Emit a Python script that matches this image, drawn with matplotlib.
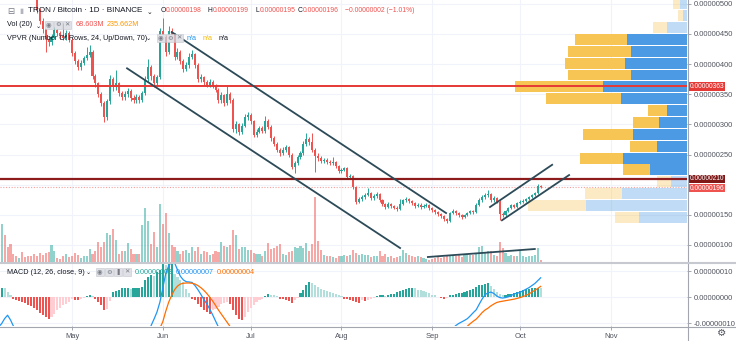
import numpy as np
import pandas as pd
import matplotlib
matplotlib.use("Agg")
import matplotlib.pyplot as plt
import matplotlib.dates as mdates
from matplotlib import font_manager
from matplotlib.lines import Line2D
from matplotlib.ticker import FuncFormatter
from matplotlib.transforms import ScaledTranslation, blended_transform_factory

installed = {f.name for f in font_manager.fontManager.ttflist}
if "Liberation Sans Narrow" in installed:
    FONT, K = "Liberation Sans Narrow", 1.0
else:
    FONT, K = "Liberation Sans", 0.82
plt.rcParams["font.family"] = [FONT, "DejaVu Sans"]

# TRX/BTC daily candles, prices in satoshi
dates = pd.date_range("2019-04-06", "2019-10-08", freq="D")
first_open = 575
closes = [
    590, 600, 592, 585, 575, 565, 556, 562, 552, 543,
    533, 524, 514, 490, 472, 458, 442, 436, 445, 456,
    451, 447, 444, 452, 440, 418, 405, 395, 402, 410,
    415, 420, 380, 368, 350, 336, 312, 338, 376, 362,
    368, 352, 345, 350, 356, 344, 340, 345, 340, 352,
    375, 396, 380, 368, 378, 455, 445, 420, 455, 448,
    412, 420, 405, 392, 398, 412, 416, 398, 375, 378,
    370, 366, 370, 364, 357, 340, 348, 335, 350, 340,
    292, 300, 287, 298, 312, 316, 305, 283, 288, 294,
    289, 306, 296, 277, 268, 258, 252, 258, 262, 250,
    230, 236, 246, 252, 268, 276, 270, 258, 248, 244,
    239, 241, 238, 236, 238, 231, 222, 225, 227, 212,
    214, 196, 172, 176, 180, 183, 186, 178, 181, 185,
    175, 168, 163, 168, 165, 162, 160, 168, 174, 176,
    173, 170, 165, 167, 163, 165, 167, 161, 158, 155,
    151, 148, 143, 140, 153, 156, 153, 150, 146, 150,
    153, 156, 155, 166, 175, 180, 183, 185, 175, 178,
    172, 152, 149, 156, 161, 166, 163, 170, 171, 173,
    176, 180, 183, 186, 198, 196,
]
highs = [
    596, 608, 604, 596, 588, 579, 568, 568, 565, 556,
    547, 536, 527, 516, 493, 476, 461, 447, 450, 462,
    460, 455, 468, 456, 455, 443, 421, 408, 406, 414,
    428, 432, 423, 384, 371, 354, 339, 342, 382, 379,
    390, 371, 356, 355, 361, 359, 348, 350, 349, 356,
    380, 408, 399, 384, 382, 460, 476, 448, 463, 460,
    451, 426, 423, 408, 403, 418, 424, 419, 401, 383,
    381, 374, 375, 373, 367, 360, 353, 351, 364, 353,
    343, 305, 303, 302, 318, 320, 319, 308, 292, 298,
    297, 314, 309, 299, 280, 271, 261, 262, 266, 264,
    252, 240, 250, 256, 272, 285, 279, 286, 261, 252,
    247, 245, 244, 241, 246, 240, 233, 228, 230, 229,
    217, 216, 198, 179, 183, 186, 194, 188, 184, 188,
    187, 177, 170, 171, 170, 167, 164, 176, 177, 179,
    178, 175, 172, 170, 169, 168, 170, 168, 163, 160,
    157, 153, 150, 145, 155, 159, 158, 155, 152, 152,
    155, 158, 158, 169, 178, 183, 186, 191, 187, 181,
    180, 174, 155, 158, 163, 168, 168, 172, 174, 176,
    178, 182, 185, 188, 201, 199,
]
lows = [
    570, 586, 588, 580, 570, 560, 551, 552, 547, 538,
    528, 519, 508, 485, 466, 452, 420, 430, 432, 441,
    446, 442, 440, 440, 436, 414, 400, 390, 391, 398,
    406, 411, 376, 362, 345, 330, 304, 308, 334, 356,
    357, 347, 340, 341, 346, 339, 335, 336, 336, 337,
    349, 371, 374, 362, 364, 375, 440, 414, 416, 440,
    406, 408, 400, 387, 388, 394, 408, 393, 370, 371,
    366, 362, 362, 360, 353, 336, 336, 331, 332, 336,
    288, 286, 282, 284, 295, 308, 300, 279, 279, 285,
    285, 286, 292, 273, 264, 254, 248, 249, 255, 246,
    226, 220, 233, 243, 249, 265, 266, 254, 221, 240,
    236, 236, 235, 233, 233, 228, 219, 219, 222, 209,
    209, 193, 168, 169, 173, 177, 181, 175, 175, 178,
    172, 165, 160, 161, 162, 159, 157, 158, 166, 171,
    170, 167, 162, 163, 160, 161, 163, 158, 155, 152,
    148, 145, 140, 136, 138, 151, 150, 147, 143, 144,
    148, 151, 152, 153, 164, 172, 177, 180, 172, 172,
    169, 141, 146, 147, 154, 159, 161, 161, 168, 169,
    171, 174, 178, 181, 184, 195,
]
# daily volume, millions of TRX
volumes = [
    448, 1064, 756, 420, 504, 224, 168, 112, 280, 140,
    168, 168, 224, 168, 252, 196, 252, 280, 476, 308,
    112, 84, 168, 224, 140, 168, 252, 196, 112, 168,
    168, 364, 224, 308, 560, 420, 560, 812, 756, 924,
    616, 224, 308, 308, 532, 364, 224, 224, 224, 1036,
    1512, 1148, 504, 840, 420, 1624, 1064, 1372, 812, 476,
    420, 308, 224, 308, 336, 252, 420, 308, 420, 224,
    308, 280, 196, 224, 308, 280, 560, 448, 420, 476,
    896, 756, 364, 420, 420, 336, 336, 252, 224, 224,
    168, 308, 532, 364, 392, 448, 504, 224, 196, 280,
    308, 420, 392, 448, 392, 532, 308, 504, 1820, 588,
    336, 196, 168, 168, 140, 112, 168, 168, 196, 168,
    196, 336, 252, 196, 224, 196, 196, 140, 168, 168,
    308, 168, 224, 140, 168, 112, 140, 168, 336, 252,
    196, 168, 140, 168, 140, 112, 84, 56, 84, 112,
    140, 112, 140, 196, 168, 168, 168, 196, 140, 196,
    224, 196, 196, 252, 420, 448, 252, 308, 308, 196,
    168, 560, 392, 252, 168, 196, 168, 168, 308, 168,
    140, 168, 168, 196, 392, 68.603,
]
vol_ma20 = 235.662

# MACD (12, 26, 9), values in 1e-8 BTC
macd_hist = [
    2.6, 3.5, 3.3, 1.9, 0.8, -0.6, -1.3, -1.7, -1.9, -2.2,
    -2.9, -3.5, -4.2, -5.1, -6.2, -6.8, -7.7, -8.3, -7.7, -6.4,
    -5.1, -4.2, -3.2, -2.6, -1.9, -0.9, -1.0, -1.3, -0.9, -0.3,
    0.3, 0.8, 0.5, -0.8, -1.8, -3.2, -5.1, -4.5, -1.5, 1.9,
    2.2, 2.6, 3.3, 3.5, 3.5, 3.2, 3.3, 3.5, 3.5, 3.8,
    6.4, 7.7, 8.3, 8.0, 9.6, 10.5, 12.8, 12.2, 12.8, 12.8,
    9.0, 7.7, 6.4, 5.8, 3.2, 1.5, -0.6, -1.3, -2.6, -3.8,
    -5.1, -5.8, -6.4, -5.1, -4.5, -3.8, -2.6, -2.2, -2.0, -2.6,
    -5.1, -7.0, -8.3, -9.0, -7.7, -5.8, -4.2, -3.2, -1.9, -1.0,
    -0.6, 0.5, 1.2, 0.9, 0.6, 0.3, -0.6, -0.9, -1.3, -1.5,
    -2.2, -1.3, -0.3, 1.5, 2.6, 4.5, 5.8, 5.4, 4.5, 3.8,
    3.2, 2.6, 2.2, 1.9, 1.5, 1.3, 0.9, 0.3, -0.6, -0.9,
    -1.3, -1.7, -1.9, -2.2, -1.3, -1.7, -1.3, -0.6, -0.4, 0.3,
    0.6, 0.6, 0.3, 0.9, 1.0, 1.3, 1.9, 2.2, 2.6, 3.2,
    3.5, 3.6, 3.3, 2.8, 2.6, 2.2, 1.9, 1.5, 0.9, 0.6,
    0.2, -0.3, -0.6, -0.3, 0.6, 0.9, 1.3, 1.5, 1.7, 1.9,
    2.2, 2.6, 3.2, 3.8, 4.5, 4.8, 5.1, 5.4, 4.2, 3.2,
    1.9, 1.3, 0.6, 0.9, 1.2, 1.3, 1.5, 1.9, 2.2, 2.6,
    2.9, 3.2, 3.5, 3.5, 3.6, 3.3,
]
macd_parts = [
    ("2019-04-06", [-11.5, -10.2, -8.3, -7.0, -8.8, -11.2, -13.5]),
    ("2019-05-27", [-14, -11, -8.5, -5.8, -2.0, 3.5, 9.0, 12.0, 13.5, 13.2,
                    10.5, 8.0, 6.6, 5.9, 5.8, 5.6, 4.4, 2.8, 1.0, -0.9,
                    -2.6, -4.6, -6.8, -9.2, -11.6, -14]),
    ("2019-09-08", [-12, -11, -10.2, -9.6, -9.0, -8.3, -7.2, -6.0, -4.9, -2.8,
                    -0.8, 0.9, 1.6, 1.9, 1.4, 0.4, -0.2, -0.4, -0.2, 0.1,
                    0.6, 1.2, 1.5, 1.8, 2.4, 3.0, 3.6, 4.4, 5.2, 6.3, 7.4]),
]
signal_parts = [
    ("2019-05-30", [-13.5, -12, -9.5, -5.5, -2.0, 0.6, 2.8, 4.2, 5.0, 5.3,
                    5.4, 5.4, 5.3, 5.0, 4.4, 3.6, 2.6, 1.4, 0.0, -1.5,
                    -3.2, -5.0, -6.6, -8.2, -9.8, -11.4, -13]),
    ("2019-09-12", [-13, -11.2, -10.2, -9.3, -8.5, -7.3, -6.0, -5.0, -4.3, -3.4,
                    -2.7, -2.1, -1.8, -1.6, -1.4, -1.2, -1.0, -0.8, -0.5, -0.2,
                    0.2, 0.6, 1.2, 1.9, 2.6, 3.3, 4.1]),
]

# volume profile, 24 rows from the lowest low to the highest high
vp_up = [48, 101, 65, 16, 37, 64, 30, 54, 28, 20, 66, 84,
         56, 62, 56, 60, 20, 4, 7, 19, 9, 8, 6, 5]
vp_down = [24, 58, 37, 14, 27, 43, 27, 50, 26, 19, 75, 88,
           63, 60, 63, 52, 14, 5, 7, 10, 6, 5, 4, 3]
value_area_pct = 70

# drawn levels and trend lines
resistance = 363
support = 210
price_lines = [
    (("2019-06-04 02:00", 453), ("2019-09-05 17:00", 153)),
    (("2019-05-19 19:00", 393), ("2019-08-21 00:00", 95)),
    (("2019-09-20 17:00", 163), ("2019-10-11 22:00", 233)),
    (("2019-09-24 19:00", 141), ("2019-10-17 17:00", 216)),
]
volume_line = (("2019-08-30 12:00", 140), ("2019-10-06 00:00", 364))

UP, DN = "#26a69a", "#ef5350"
GRID = "#f0f3fa"
TXT = "#131722"
AX_TXT = "#50535e"

W, H = 736, 341
fig = plt.figure(figsize=(W / 100, H / 100), dpi=100)


def rect(top, bottom):
    return [0, 1 - bottom / H, 687 / W, (bottom - top) / H]


ax_v = fig.add_axes(rect(0, 262))
ax = fig.add_axes(rect(0, 262), sharex=ax_v)
ax_m = fig.add_axes(rect(263, 326), sharex=ax_v)
ax.patch.set_visible(False)
for a in (ax_v, ax, ax_m):
    for s in a.spines.values():
        s.set_visible(False)

x = mdates.date2num(dates)
view = (mdates.date2num(pd.Timestamp("2019-04-06 10:00")),
        mdates.date2num(pd.Timestamp("2019-11-26 23:00")))
ax_v.set_xlim(*view)
ax.set_ylim(71.8, 506.3)
ax_v.set_ylim(0, 7336)
ax_m.set_ylim(-11.15, 13.1)

o = np.array([first_open] + closes[:-1], dtype=float)
c = np.array(closes, dtype=float)
rising = c >= o
colors = np.where(rising, UP, DN)

# grid (price levels live in the background axes)
ax_v.xaxis.set_major_locator(mdates.MonthLocator())
ax_v.grid(axis="x", color=GRID, lw=0.8)
ax_v.set_axisbelow(True)
gy = blended_transform_factory(ax_v.transAxes, ax.transData)
for p in range(100, 501, 50):
    ax_v.plot([0, 1], [p, p], color=GRID, lw=0.8, transform=gy, zorder=0)
ax_m.grid(color=GRID, lw=0.8)
ax_m.set_axisbelow(True)

# volume
vol_cols = [matplotlib.colors.to_rgba(col, 0.5) for col in colors]
ax_v.bar(x, volumes, width=0.72, color=vol_cols, lw=0, zorder=1)
(vx0, vv0), (vx1, vv1) = volume_line
ax_v.plot(mdates.date2num(pd.to_datetime([vx0, vx1])), [vv0, vv1],
          color="#2c4a57", lw=1.3, zorder=3)

# volume profile on the right edge
edges = np.linspace(min(lows), max(highs), 25)
step = edges[1] - edges[0]
up_v, dn_v = np.array(vp_up, float), np.array(vp_down, float)
tot = up_v + dn_v
poc = int(np.argmax(tot))
lo = hi = poc
acc = tot[poc]
while acc < tot.sum() * value_area_pct / 100:
    above = tot[hi + 1] if hi + 1 < len(tot) else -1
    below = tot[lo - 1] if lo > 0 else -1
    if above >= below:
        hi += 1
        acc += above
    else:
        lo -= 1
        acc += below
span = view[1] - view[0]
k = 0.25 * span / tot.max()
gap = 0.8
for i in range(24):
    a = 1.0 if lo <= i <= hi else 0.35
    ax.barh(edges[i] + gap, up_v[i] * k, left=view[1] - up_v[i] * k,
            height=step - 2 * gap, align="edge", color="#4c9ae4", alpha=a, lw=0, zorder=1)
    ax.barh(edges[i] + gap, dn_v[i] * k, left=view[1] - tot[i] * k,
            height=step - 2 * gap, align="edge", color="#f6c553", alpha=a, lw=0, zorder=1)

# candles
ax.vlines(x, lows, highs, colors=colors, lw=0.7, zorder=3)
ax.bar(x, np.maximum(np.abs(c - o), 0.8), bottom=np.minimum(o, c), width=0.7,
       color=colors, lw=0, zorder=3)

# horizontal levels and last price
ax.axhline(resistance, color="#e53935", lw=1.4, zorder=4)
ax.axhline(support, color="#8e1b1b", lw=1.6, zorder=4)
ax.axhline(closes[-1], color=DN, lw=0.8, ls=(0, (1, 1.5)), alpha=0.55, zorder=2)
for (d0, p0), (d1, p1) in price_lines:
    ax.plot(mdates.date2num(pd.to_datetime([d0, d1])), [p0, p1],
            color="#2c4a57", lw=1.3, zorder=5)

# MACD pane
hist = np.array(macd_hist)
prev = np.concatenate([[hist[0]], hist[:-1]])
hcol = np.where(hist >= 0, np.where(hist >= prev, "#26a69a", "#b2dfdb"),
                np.where(hist <= prev, "#ef5350", "#ffcdd2"))
ax_m.bar(x, hist, width=0.72, color=hcol, lw=0, zorder=2)
for start, vals in macd_parts:
    ax_m.plot(mdates.date2num(pd.date_range(start, periods=len(vals))), vals,
              color="#2196f3", lw=0.9, zorder=3)
for start, vals in signal_parts:
    ax_m.plot(mdates.date2num(pd.date_range(start, periods=len(vals))), vals,
              color="#ff6d00", lw=0.9, zorder=3)

# axes, ticks (the 200 label is covered by the price tags, so it is left out)
sat = FuncFormatter(lambda v, _: f"{v * 1e-8:.8f}")
ax.set_yticks([100, 150, 250, 300, 350, 400, 450, 500])
ax.yaxis.set_major_formatter(sat)
ax.yaxis.tick_right()
ax.tick_params(axis="y", length=3, width=0.6, pad=2, color="#9598a1",
               labelsize=6.6 * K, labelcolor=AX_TXT)
ax.tick_params(axis="x", length=0, labelbottom=False)
ax_v.tick_params(left=False, labelleft=False, bottom=False, labelbottom=False)
ax_m.set_yticks([-10, 0, 10])
ax_m.yaxis.set_major_formatter(sat)
ax_m.yaxis.tick_right()
ax_m.tick_params(axis="y", length=3, width=0.6, pad=2, color="#9598a1",
                 labelsize=6.6 * K, labelcolor=AX_TXT)
ax_m.xaxis.set_major_formatter(mdates.DateFormatter("%b"))
ax_m.tick_params(axis="x", length=3, width=0.6, pad=2, color="#9598a1",
                 labelsize=6.6 * K, labelcolor=AX_TXT)

# price tags on the scale; the last-price tag sits just under the support tag
tags = [(resistance, "#e53935", 0), (support, "#801818", 0), (closes[-1], "#ef5350", -1.2)]
for val, fc, dy in tags:
    tr = ax.get_yaxis_transform() + ScaledTranslation(0, dy / 100, fig.dpi_scale_trans)
    ax.text(1.0045, val, f"{val * 1e-8:.8f}", transform=tr,
            ha="left", va="center", fontsize=5.8 * K, color="white", clip_on=False,
            zorder=6, bbox=dict(boxstyle="square,pad=0.1", fc=fc, ec="none"))

# pane borders
for xs, ys, col, lw in [([687.5, 687.5], [0, H], "#a3a6af", 0.8),
                        ([0, W], [262.5, 262.5], "#c6c9d0", 1.5),
                        ([0, W], [326.5, 326.5], "#a3a6af", 0.8)]:
    fig.add_artist(Line2D([v / W for v in xs], [1 - v / H for v in ys],
                          color=col, lw=lw, transform=fig.transFigure))


def put(px, py, s, color=TXT, size=6.4):
    fig.text(px / W, 1 - py / H, s, color=color, fontsize=size * K,
             ha="left", va="center")


def icons(px, py, glyphs):
    for j, g in enumerate(glyphs):
        fig.text((px + 9 * j) / W, 1 - py / H, g, fontsize=4.6, color="#787b86",
                 ha="left", va="center", family="DejaVu Sans",
                 bbox=dict(boxstyle="square,pad=0.18", fc="#dfe1e6", ec="#c4c7ce", lw=0.4))


fmt8 = lambda v: f"{v * 1e-8:.8f}"
chg = closes[-1] - o[-1]
put(7, 11, "⊟", "#787b86", 7.5)
put(19, 11, "▮", "#b2b5be", 6.5)
put(28, 11, "TRON / Bitcoin · 1D · BINANCE", TXT, 7.1)
put(147, 12, "⌄", TXT, 6)
ohlc = [("O", o[-1], 161), ("H", highs[-1], 208), ("L", lows[-1], 255), ("C", closes[-1], 298)]
for letter, val, px in ohlc:
    put(px, 11, letter, TXT, 5.9)
    put(px + 5, 11, fmt8(val), DN, 5.9)
put(345, 11, f"{fmt8(chg)} ({chg / o[-1] * 100:.2f}%)".replace("-", "−"), DN, 5.9)

put(7, 25, "Vol (20)", TXT, 6.4)
put(36, 26, "⌄", TXT, 5.5)
icons(46, 25, ["◉", "⚙", "✕"])
put(76, 25, f"{volumes[-1]:.3f}M", DN, 6.4)
put(107, 25, f"{vol_ma20:.3f}M", "#ff9800", 6.4)

put(7, 38, "VPVR (Number Of Rows, 24, Up/Down, 70)", TXT, 6.4)
put(146, 39, "⌄", TXT, 5.5)
icons(158, 38, ["◉", "⚙", "✕"])
put(187, 38, "n/a", "#2196f3", 6.4)
put(203, 38, "n/a", "#f5b800", 6.4)
put(219, 38, "n/a", TXT, 6.4)

put(7, 272, "MACD (12, 26, close, 9)", TXT, 6.4)
put(86, 273, "⌄", TXT, 5.5)
icons(97, 272, ["◉", "⚙", "❚", "✕"])
put(135, 272, fmt8(macd_hist[-1]), "#26a69a", 6.4)
put(176, 272, fmt8(macd_parts[-1][1][-1]), "#2196f3", 6.4)
put(217, 272, fmt8(signal_parts[-1][1][-1]), "#ff6d00", 6.4)

fig.text(722 / W, 1 - 333 / H, "⚙", fontsize=7.5, color=AX_TXT, ha="center",
         va="center", family="DejaVu Sans")

fig.savefig("out.png", dpi=100)
